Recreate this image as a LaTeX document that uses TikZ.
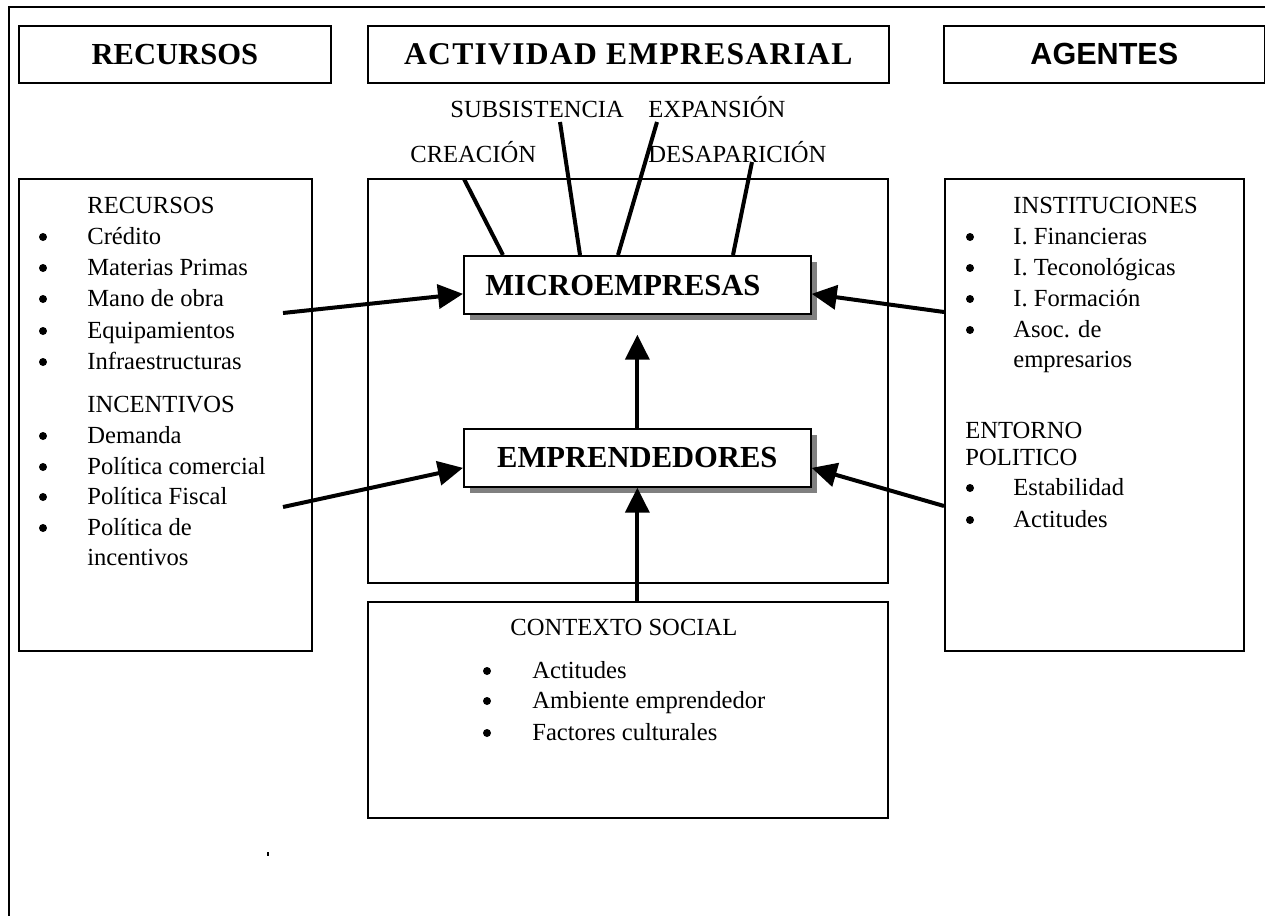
\documentclass[tikz,border=0pt]{standalone}
\usepackage{fontspec}
\setmainfont{Liberation Serif}
\newfontfamily\agfont{Liberation Sans}
\newfontfamily\wideserif[LetterSpace=4]{Liberation Serif}
\usetikzlibrary{arrows.meta,calc,shadows}
\tikzstyle{box} = [draw,line width=0.035cm,inner sep=0,anchor=north west,fill=white]
\tikzstyle{sbox} = [box,drop shadow={shadow xshift=0.12cm,shadow yshift=-0.12cm,fill=gray,opacity=1}]
\tikzstyle{txt} = [inner sep=0,anchor=base west,font=\fontsize{14}{17}\selectfont]
\tikzstyle{bul} = [circle,fill,inner sep=0,minimum size=0.16cm]
\tikzstyle{head} = [font=\fontsize{17.4}{20}\selectfont\bfseries]
\tikzstyle{arrow} = [line width=0.08cm,-{Triangle[length=0.5cm,width=0.48cm]}]
\tikzstyle{link} = [line width=0.08cm]

\begin{document}
\begin{tikzpicture}[x=0.02cm,y=-0.02cm]
\useasboundingbox (0,0) rectangle (1265,916);

%frame
\draw[line width=0.06cm] (9,916) -- (9,7) -- (1265,7);

%headers
\node[box,head,minimum width=6.24cm,minimum height=1.14cm] (hrec) at (18,25) {RECURSOS};
\node[box,head,font=\fontsize{18}{21}\selectfont\wideserif\bfseries,minimum width=10.42cm,minimum height=1.14cm] (hact) at (367,25) {ACTIVIDAD EMPRESARIAL};
\node[box,head,font=\fontsize{17.4}{20}\selectfont\agfont\bfseries,minimum width=6.42cm,minimum height=1.14cm] (hage) at (943,25) {AGENTES};

%main boxes
\node[box,minimum width=5.86cm,minimum height=9.44cm] (recbox) at (18,178) {};
\node[box,minimum width=10.4cm,minimum height=8.08cm] (actbox) at (367,178) {};
\node[box,minimum width=10.4cm,minimum height=4.32cm] (ctxbox) at (367,601) {};
\node[box,minimum width=5.98cm,minimum height=9.44cm] (agebox) at (944,178) {};

\node[sbox,minimum width=6.94cm,minimum height=1.16cm] (micro) at (463,255) {};
\node[head,inner sep=0,anchor=base west] (tmicro) at (485,295) {MICROEMPRESAS};
\node[sbox,head,minimum width=6.94cm,minimum height=1.16cm] (empr) at (463,428) {EMPRENDEDORES};

%stages
\node[txt] (crea) at (410,162) {CREACIÓN};
\node[txt] (subs) at (450,117) {SUBSISTENCIA};
\node[txt] (expa) at (648,117) {EXPANSIÓN};
\node[txt] (desa) at (648,162) {DESAPARICIÓN};

\draw[link] ($(crea.base west)+(54,17)$) -- ($(micro.north west)+(40,0)$);
\draw[link] ($(subs.base west)+(110,5)$) -- ($(micro.north west)+(117,0)$);
\draw[link] ($(expa.base west)+(9,5)$) -- ($(micro.north west)+(155,0)$);
\draw[link] ($(desa.base west)+(104,0)$) -- ($(micro.north west)+(270,0)$);

%recursos
\node[txt] (hres) at (87,213) {RECURSOS};
\node[txt] (hinc) at (87,412) {INCENTIVOS};
\foreach \t/\y [count=\i] in {Crédito/244,Materias Primas/275,Mano de obra/306,Equipamientos/338,Infraestructuras/369,Demanda/443,Política comercial/474,Política Fiscal/504,Política de/535}
{
\node[bul] (rb\i) at (43,{\y-7}) {};
\node[txt] (ri\i) at (87,\y) {\t};
}
\node[txt] (ri10) at (87,565) {incentivos};

%agentes
\node[txt] (hins) at (1013,213) {INSTITUCIONES};
\foreach \t/\y [count=\i] in {I. Financieras/244,I. Teconológicas/275,I. Formación/306,Asoc. de/337}
{
\node[bul] (ab\i) at (970,{\y-7}) {};
\node[txt] (ai\i) at (1013,\y) {\t};
}
\node[txt] (ai5) at (1013,367) {empresarios};
\node[txt] (hent) at (965,438) {ENTORNO};
\node[txt] (hpol) at (965,465) {POLITICO};
\foreach \t/\y [count=\i] in {Estabilidad/495,Actitudes/527}
{
\node[bul] (eb\i) at (970,{\y-7}) {};
\node[txt] (ei\i) at (1013,\y) {\t};
}

%contexto social
\node[txt] (hctx) at (510,635) {CONTEXTO SOCIAL};
\foreach \t/\y [count=\i] in {Actitudes/678,Ambiente emprendedor/708,Factores culturales/740}
{
\node[bul] (cb\i) at (487,{\y-7}) {};
\node[txt] (ci\i) at (532,\y) {\t};
}

%arrows
\coordinate (l1) at (283,313);
\coordinate (l2) at (283,507);
\coordinate (r1) at (944,312);
\coordinate (r2) at (944,506);
\draw[arrow] (l1) -- ($(micro.west)+(0,9)$);
\draw[arrow] (l2) -- ($(empr.west)+(0,10)$);
\draw[arrow] (r1) -- ($(micro.east)+(0,9)$);
\draw[arrow] (r2) -- ($(empr.east)+(0,10)$);
\draw[arrow] (empr.north) -- ($(micro.south)+(0,20)$);
\draw[arrow] (empr.south |- ctxbox.north) -- (empr.south);

%stray mark
\fill (267,852) rectangle (269,856);

\end{tikzpicture}
\end{document}
